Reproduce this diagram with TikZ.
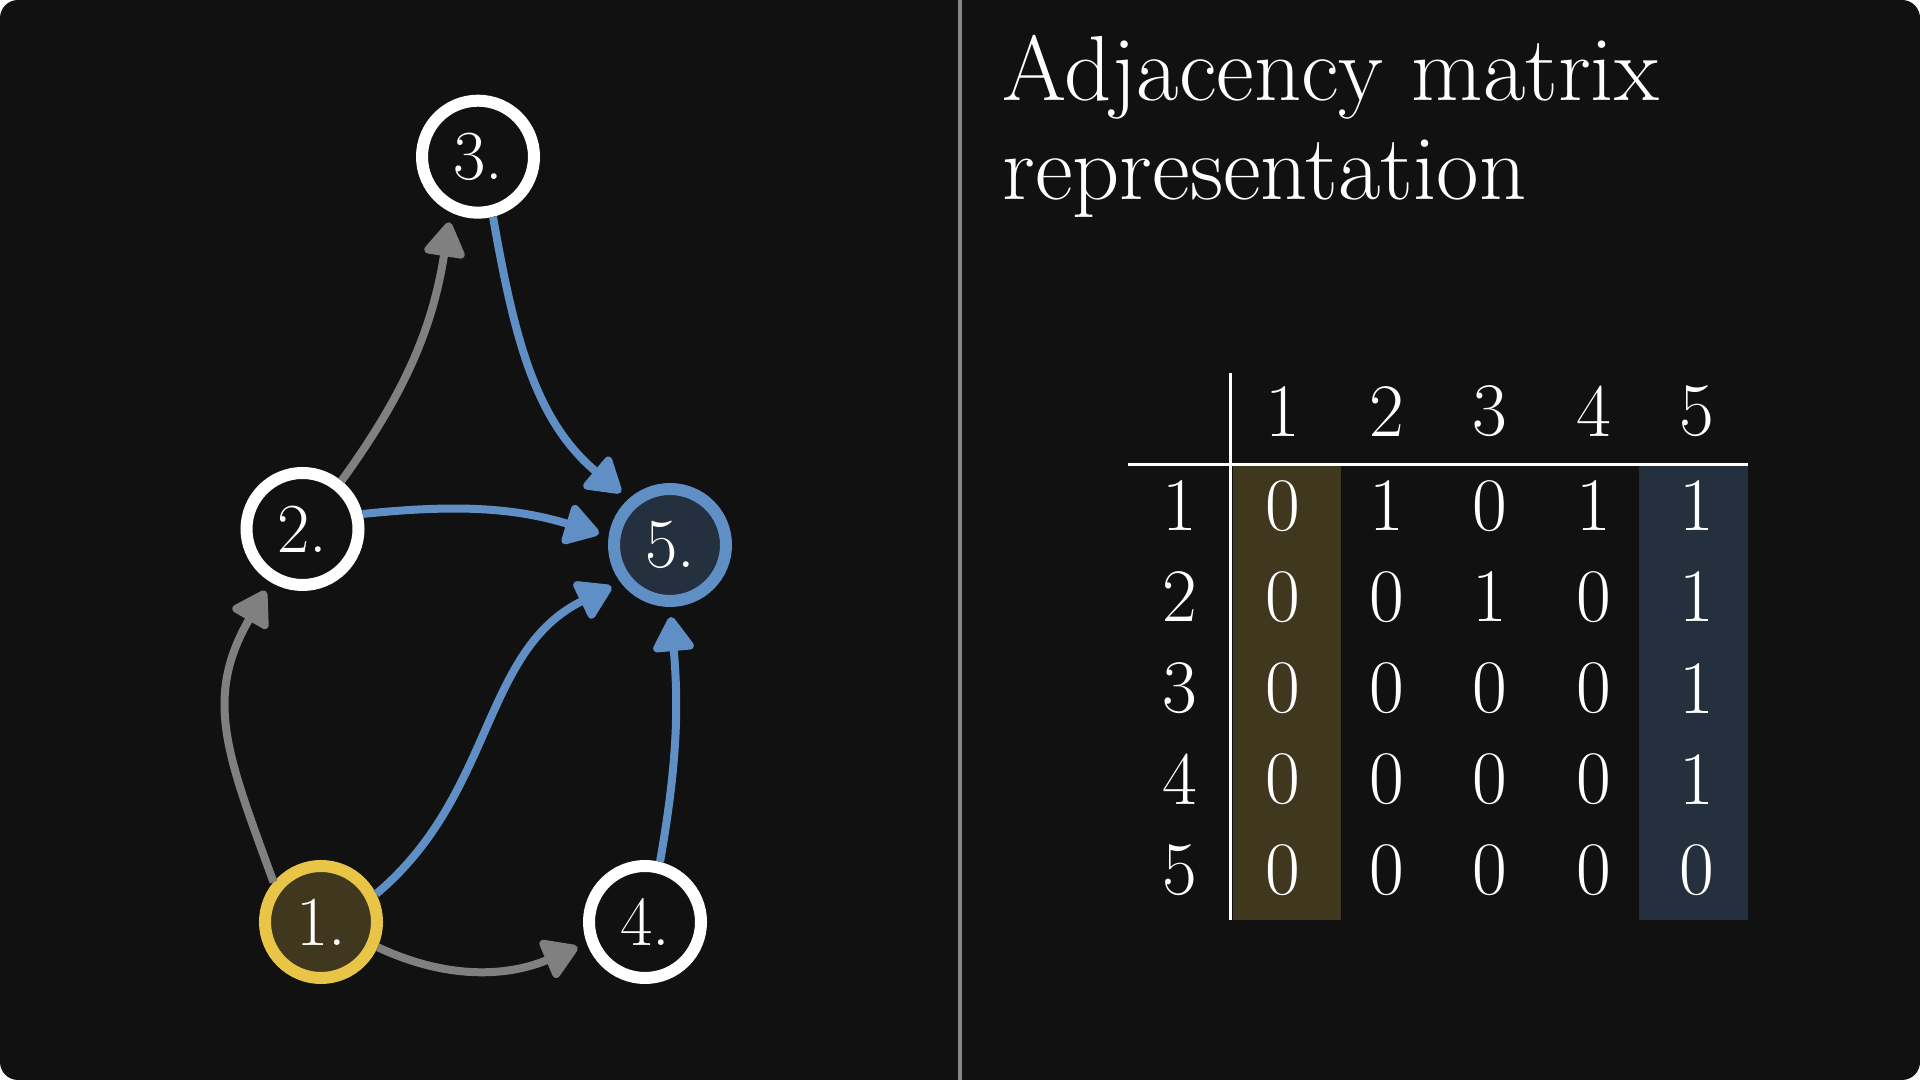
\documentclass[tikz,border=0pt]{standalone}
\usetikzlibrary{positioning,arrows.meta}
\definecolor{BgDark}{HTML}{111111}
\definecolor{EdgeGray}{HTML}{808080}
\definecolor{RuleGray}{HTML}{888888}
\definecolor{NodeYellow}{HTML}{E8C547}
\definecolor{YellowFill}{HTML}{3F381E}
\definecolor{NodeBlue}{HTML}{5F8FC5}
\definecolor{BlueFill}{HTML}{24303D}

\begin{document}
\begin{tikzpicture}[
      vert/.style={circle,draw=white,fill=BgDark,line width=1.2mm,minimum size=11.2mm,
                   inner sep=0pt,text=white,font=\fontsize{20}{23}\selectfont},
      cell/.style={text=white,inner sep=0pt,font=\fontsize{21.5}{25}\selectfont},
      ttl/.style={text=white,inner sep=0pt,anchor=base west,font=\fontsize{26.3}{30}\selectfont},
      link/.style={-{Triangle[length=3.8mm,width=4.5mm,round]},EdgeGray,line width=0.8mm,shorten >=1mm},
      linkhot/.style={link,NodeBlue}]
    \useasboundingbox (0,0) rectangle (19.2,10.8);
    \fill[BgDark,rounded corners=1.8mm] (0,0) rectangle (19.2,10.8);
    \coordinate (divtop) at (9.6,10.8); \coordinate (divbot) at (9.6,0);
    \draw[RuleGray,line width=0.4mm] (divtop) -- (divbot);

    % graph
    \node[vert] (v3) at (4.78,9.233) {3.};
    \node[vert] (v2) at (3.025,5.51) {2.};
    \node[vert,draw=NodeBlue,fill=BlueFill] (v5) at (6.70,5.35) {5.};
    \node[vert,draw=NodeYellow,fill=YellowFill] (v1) at (3.21,1.58) {1.};
    \node[vert] (v4) at (6.45,1.58) {4.};
    \draw[link] (v1.140) to[out=110,in=240,looseness=1.15] (v2.239);
    \draw[link] (v2.51) to[out=54,in=261] (v3.244);
    \draw[link] (v1.336) to[out=335,in=203] (v4.200);
    \draw[linkhot] (v3.284) to[out=280,in=140] (v5.132);
    \draw[linkhot] (v2.14) to[out=6,in=163] (v5.172);
    \draw[linkhot] (v1.27) to[out=40,in=206] (v5.217);
    \draw[linkhot] (v4.76) to[out=80,in=275] (v5.270);

    % matrix
    \node[ttl] (ttl1) at (10.016,9.796) {Adjacency matrix};
    \node[ttl] (ttl2) at (10.016,8.804) {representation};
    \fill[YellowFill] (12.327,1.6) rectangle (13.41,6.14);
    \fill[BlueFill] (16.39,1.6) rectangle (17.477,6.14);
    \coordinate (vtop) at (12.305,7.07); \coordinate (vbot) at (12.305,1.6);
    \coordinate (hleft) at (11.28,6.157); \coordinate (hright) at (17.48,6.157);
    \draw[white,line width=0.3mm] (vtop) -- (vbot); \draw[white,line width=0.3mm] (hleft) -- (hright);
    \node[cell] (h1) at (12.83,6.685) {1}; \node[cell] (h2) at (13.865,6.685) {2};
    \node[cell] (h3) at (14.90,6.685) {3}; \node[cell] (h4) at (15.935,6.685) {4};
    \node[cell] (h5) at (16.97,6.685) {5};
    \node[cell] (r1) at (11.80,5.743) {1}; \node[cell] (r2) at (11.80,4.831) {2};
    \node[cell] (r3) at (11.80,3.919) {3}; \node[cell] (r4) at (11.80,3.006) {4};
    \node[cell] (r5) at (11.80,2.094) {5};
    \node[cell] (c11) at (12.83,5.743) {0}; \node[cell] (c12) at (13.865,5.743) {1}; \node[cell] (c13) at (14.90,5.743) {0}; \node[cell] (c14) at (15.935,5.743) {1}; \node[cell] (c15) at (16.97,5.743) {1};
    \node[cell] (c21) at (12.83,4.831) {0}; \node[cell] (c22) at (13.865,4.831) {0}; \node[cell] (c23) at (14.90,4.831) {1}; \node[cell] (c24) at (15.935,4.831) {0}; \node[cell] (c25) at (16.97,4.831) {1};
    \node[cell] (c31) at (12.83,3.919) {0}; \node[cell] (c32) at (13.865,3.919) {0}; \node[cell] (c33) at (14.90,3.919) {0}; \node[cell] (c34) at (15.935,3.919) {0}; \node[cell] (c35) at (16.97,3.919) {1};
    \node[cell] (c41) at (12.83,3.006) {0}; \node[cell] (c42) at (13.865,3.006) {0}; \node[cell] (c43) at (14.90,3.006) {0}; \node[cell] (c44) at (15.935,3.006) {0}; \node[cell] (c45) at (16.97,3.006) {1};
    \node[cell] (c51) at (12.83,2.094) {0}; \node[cell] (c52) at (13.865,2.094) {0}; \node[cell] (c53) at (14.90,2.094) {0}; \node[cell] (c54) at (15.935,2.094) {0}; \node[cell] (c55) at (16.97,2.094) {0};
  \end{tikzpicture}
\end{document}
